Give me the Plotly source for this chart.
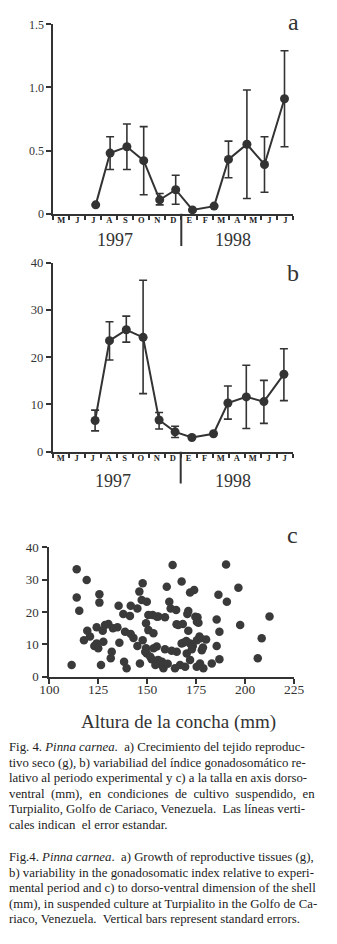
import plotly.graph_objects as go

# ---------------- data ----------------
months = ["M", "J", "J", "A", "S", "O", "N", "D", "E", "F", "M", "A", "M", "J", "J"]
years = ["1997", "1998"]

# sampling positions (month index, fractional)
sample_pos = [2.15, 3.05, 4.1, 5.15, 6.15, 7.15, 8.2, 9.55, 10.45, 11.6, 12.7, 13.95]

# a) dry reproductive tissue (g)
tissue = [0.07, 0.48, 0.53, 0.42, 0.11, 0.19, 0.03, 0.06, 0.43, 0.55, 0.39, 0.91]
tissue_up = [0.0, 0.13, 0.18, 0.27, 0.05, 0.115, 0.0, 0.0, 0.145, 0.43, 0.22, 0.38]
tissue_dn = [0.0, 0.13, 0.18, 0.27, 0.04, 0.115, 0.0, 0.0, 0.145, 0.43, 0.22, 0.38]

# b) gonadosomatic index
gsi = [6.6, 23.5, 25.8, 24.2, 6.7, 4.2, 3.0, 3.8, 10.3, 11.6, 10.6, 16.4]
gsi_up = [2.2, 4.0, 2.9, 12.1, 1.6, 1.2, 0.0, 0.0, 3.6, 6.7, 4.5, 5.4]
gsi_dn = [2.2, 4.1, 2.6, 11.9, 1.9, 1.2, 0.0, 0.0, 3.4, 6.7, 4.6, 5.6]

# c) GSI vs shell height (mm)
shell_h = [111.4, 114.0, 114.0, 115.3, 119.1, 119.4, 117.7, 120.8, 125.6, 125.6,
           124.2, 123.0, 125.0, 127.6, 126.4, 127.3, 130.2, 131.4, 131.9, 134.8,
           135.4, 135.8, 137.8, 138.7, 138.2, 139.5, 141.6, 141.2, 141.6, 145.0,
           146.0, 146.3, 147.7, 147.2, 149.8, 145.0, 147.7, 149.4, 149.8, 150.6,
           149.4, 150.6, 153.2, 152.8, 155.7, 152.3, 154.9, 157.4, 158.3, 159.1,
           159.1, 160.0, 161.3, 162.0, 163.0, 164.8, 165.9, 167.6, 168.2, 165.1,
           167.6, 164.2, 166.8, 169.4, 170.2, 171.0, 170.5, 171.9, 171.9, 173.3,
           174.0, 171.9, 175.3, 177.0, 175.7, 176.2, 176.7, 177.9, 178.7, 180.1,
           183.0, 185.5, 185.5, 186.4, 186.9, 186.9, 190.3, 190.7, 196.6, 197.5,
           206.5, 208.5, 212.5, 124.2, 149.0, 151.6, 155.6, 154.2, 155.0, 171.0,
           174.6, 175.4, 165.0, 177.2, 175.4, 157.6, 153.3, 143.0, 132.5, 128.5,
           162.5, 168.5, 172.8, 160.5, 170.0, 178.5]
gsi_c = [3.6, 33.2, 24.5, 20.4, 29.9, 14.2, 11.3, 12.4, 25.5, 22.9,
         15.3, 9.5, 8.8, 10.8, 3.6, 14.2, 16.3, 5.7, 7.7, 15.3,
         21.9, 10.5, 19.4, 13.9, 4.6, 2.6, 13.2, 18.8, 21.9, 21.1,
         26.3, 4.1, 28.9, 23.7, 23.2, 9.5, 11.3, 8.8, 7.2, 19.1,
         16.5, 14.4, 13.4, 19.1, 18.6, 5.4, 9.3, 3.6, 2.6, 8.5,
         18.4, 27.8, 23.2, 21.1, 34.5, 20.6, 16.0, 29.4, 16.3, 7.7,
         10.3, 2.6, 3.6, 3.1, 7.2, 14.2, 19.4, 26.0, 10.3, 9.5,
         26.8, 5.2, 3.1, 4.1, 18.4, 16.7, 12.4, 8.2, 2.6, 11.5,
         4.1, 9.5, 17.7, 25.3, 13.9, 5.4, 34.7, 23.2, 27.5, 16.0,
         5.7, 11.9, 18.6, 10.3, 7.7, 6.2, 5.2, 3.6, 18.5, 20.3,
         18.5, 17.0, 16.2, 11.9, 11.3, 4.6, 8.8, 12.0, 15.0, 16.0,
         8.0, 10.5, 8.5, 4.0, 11.0, 9.0]

caption_es = [
    "Fig. 4. <i>Pinna carnea</i>.  a) Crecimiento del tejido reproduc-",
    "tivo seco (g), b) variabiliad del índice gonadosomático re-",
    "lativo al periodo experimental y c) a la talla en axis dorso-",
    "ventral  (mm),  en  condiciones  de  cultivo  suspendido,  en",
    "Turpialito, Golfo de Cariaco, Venezuela.  Las líneas verti-",
    "cales indican  el error estandar.",
]
caption_en = [
    "Fig.4. <i>Pinna carnea</i>.  a) Growth of reproductive tissues (g),",
    "b) variability in the gonadosomatic index relative to experi-",
    "mental period and c) to dorso-ventral dimension of the shell",
    "(mm), in suspended culture at Turpialito in the Golfo de Ca-",
    "riaco, Venezuela.  Vertical bars represent standard errors.",
]

# ---------------- style ----------------
W, H = 337, 944
OFF = 8  # page body margin of the html page
INK = "#333333"
SERIF = "Liberation Serif, Times New Roman, serif"


def px(p):
    return (p - OFF) / W


def py(p):
    return 1 - (p - OFF) / H


fig = go.Figure()

line_style = dict(color=INK, width=2)
marker_style = dict(color=INK, size=9)

fig.add_trace(go.Scatter(
    x=sample_pos, y=tissue, mode="lines+markers", line=line_style, marker=marker_style,
    error_y=dict(type="data", symmetric=False, array=tissue_up, arrayminus=tissue_dn,
                 color=INK, thickness=1.6, width=4),
    cliponaxis=False, xaxis="x", yaxis="y", showlegend=False))

fig.add_trace(go.Scatter(
    x=sample_pos, y=gsi, mode="lines+markers", line=line_style, marker=marker_style,
    error_y=dict(type="data", symmetric=False, array=gsi_up, arrayminus=gsi_dn,
                 color=INK, thickness=1.6, width=4),
    cliponaxis=False, xaxis="x2", yaxis="y2", showlegend=False))

fig.add_trace(go.Scatter(
    x=shell_h, y=gsi_c, mode="markers", marker=dict(color="#3a3a3a", size=8.5),
    cliponaxis=False, xaxis="x3", yaxis="y3", showlegend=False))

month_idx = list(range(len(months)))
bounds = [i - 0.5 for i in range(len(months) + 1)]


def month_axis(domain, anchor):
    return dict(
        domain=domain, range=[-0.5, len(months) - 0.5], showgrid=False, zeroline=False,
        automargin=False, anchor=anchor,
        showline=True, linecolor=INK, linewidth=2,
        tickmode="array", tickvals=month_idx, ticktext=months,
        ticks="", tickcolor=INK, ticklabelstandoff=-3,
        tickfont=dict(family=SERIF, size=8.5, color="#222222", weight="bold"),
        minor=dict(tickmode="array", tickvals=bounds, ticks="outside", ticklen=4,
                   tickwidth=1.5, tickcolor=INK),
    )


def val_axis(domain, rng, tvals, ttext, anchor, size, standoff=0):
    return dict(
        domain=domain, range=rng, showgrid=False, zeroline=False,
        automargin=False,
        showline=True, linecolor=INK, linewidth=2, anchor=anchor,
        tickmode="array", tickvals=tvals, ticktext=ttext,
        ticks="outside", ticklen=5, tickwidth=1.5, tickcolor=INK,
        ticklabelstandoff=standoff,
        tickfont=dict(family=SERIF, size=size, color=INK),
    )


fig.update_layout(
    template="none",
    width=W, height=H, margin=dict(l=0, r=0, t=0, b=0, pad=0),
    paper_bgcolor="white", plot_bgcolor="white",
    xaxis=month_axis([px(53.3), px(293.3)], "y"),
    yaxis=val_axis([py(213.7), py(24.3)], [0, 1.5], [0, 0.5, 1.0, 1.5],
                   ["0", "0.5", "1.0", "1.5"], "x", 12),
    xaxis2=month_axis([px(52.7), px(292.7)], "y2"),
    yaxis2=val_axis([py(451.7), py(262.7)], [0, 40], [0, 10, 20, 30, 40],
                    ["0", "10", "20", "30", "40"], "x2", 12.5),
    xaxis3=val_axis([px(49.3), px(294)], [100, 225], [100, 125, 150, 175, 200, 225],
                    ["100", "125", "150", "175", "200", "225"], "y3", 13.5, -6),
    yaxis3=val_axis([py(676.7), py(547.3)], [0, 40], [0, 10, 20, 30, 40],
                    ["0", "10", "20", "30", "40"], "x3", 13, 1),
)

# year separators
fig.add_shape(type="line", xref="x", yref="paper", x0=7.5, x1=7.5,
              y0=py(246), y1=py(213.7), line=dict(color=INK, width=2))
fig.add_shape(type="line", xref="x2", yref="paper", x0=7.5, x1=7.5,
              y0=py(483.5), y1=py(451.7), line=dict(color=INK, width=2))

ann = []
for yy, x97 in ((239.5, 115.0), (481.0, 113.0)):
    ann.append(dict(text=years[0], x=px(x97), y=py(yy)))
    ann.append(dict(text=years[1], x=px(233.5), y=py(yy)))
for a in ann:
    a.update(xref="paper", yref="paper", showarrow=False, xanchor="center",
             yanchor="middle", font=dict(family=SERIF, size=18, color=INK))
    fig.add_annotation(**a)

for letter, (xx, yy) in zip(["a", "b", "c"], [(293, 21.6), (292.7, 272.7), (292.7, 535.3)]):
    fig.add_annotation(text=letter, x=px(xx), y=py(yy), xref="paper", yref="paper",
                       showarrow=False, xanchor="center", yanchor="middle",
                       font=dict(family=SERIF, size=24, color=INK))

fig.add_annotation(text="Altura de la concha (mm)", x=px(178.5), y=py(721.7),
                   xref="paper", yref="paper", showarrow=False, xanchor="center",
                   yanchor="middle", font=dict(family=SERIF, size=19, color=INK))

es_y = [748.3, 764.0, 779.5, 795.0, 810.5, 826.0]
en_y = [858.0, 874.0, 889.5, 905.0, 920.5]
for txt, yy in list(zip(caption_es, es_y)) + list(zip(caption_en, en_y)):
    fig.add_annotation(text=txt, x=px(7), y=py(yy - 1.4), xref="paper", yref="paper",
                       showarrow=False, xanchor="left", yanchor="middle",
                       font=dict(family=SERIF, size=12.8, color="#222222"))

fig.write_html("out.html")
